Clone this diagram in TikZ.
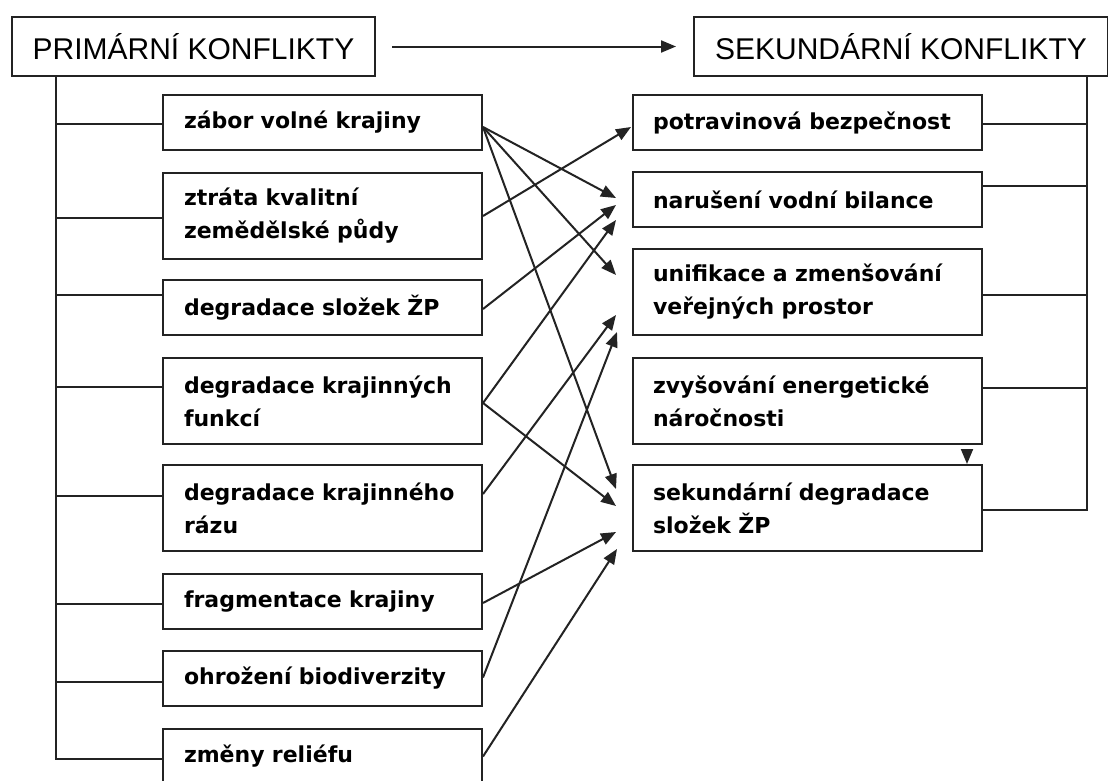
\documentclass[tikz,border=0pt]{standalone}
\usepackage{fontspec}
\setmainfont{DejaVu Sans}
\newfontfamily\titlefont{Liberation Sans}
\usetikzlibrary{arrows.meta,calc}
\definecolor{lc}{RGB}{35,35,35}
\begin{document}
\begin{tikzpicture}[x=1pt,y=1pt,
  ln/.style={line width=2pt, draw=lc},
  arr/.style={ln, -{Triangle[length=15pt,width=12pt]}},
  titlebox/.style={draw=lc, line width=2pt, anchor=north west, inner sep=0pt,
    minimum height=59pt, font=\titlefont\fontsize{30}{36}\selectfont},
  lbox/.style={draw=lc, line width=2pt, anchor=north west, inner xsep=21pt, inner ysep=0pt,
    text width=277pt, align=left, minimum height=55pt,
    font=\fontsize{22}{33}\selectfont\bfseries},
  rbox/.style={lbox, inner xsep=20pt, text width=309pt},
  tall/.style={minimum height=86pt}
]
\useasboundingbox (0,0) rectangle (1108,-780);
\clip (0,0) rectangle (1108,-780);
\fill[white] (0,0) rectangle (1108,-780);

% titles
\node[titlebox, minimum width=363pt] (tl) at (11,-16) {PRIMÁRNÍ KONFLIKTY};
\node[titlebox, minimum width=414pt] (tr) at (693,-16) {SEKUNDÁRNÍ KONFLIKTY};
\draw[arr] ([xshift=16pt]tl.east) -- ([xshift=-17pt]tr.west);

% left boxes
\node[lbox] (b1) at (162,-94) {zábor volné krajiny};
\node[lbox,tall] (b2) at (162,-172) {ztráta kvalitní\\zemědělské půdy};
\node[lbox] (b3) at (162,-279) {degradace složek ŽP};
\node[lbox,tall] (b4) at (162,-357) {degradace krajinných\\funkcí};
\node[lbox,tall] (b5) at (162,-464) {degradace krajinného\\rázu};
\node[lbox] (b6) at (162,-573) {fragmentace krajiny};
\node[lbox] (b7) at (162,-650) {ohrožení biodiverzity};
\node[lbox] (b8) at (162,-728) {změny reliéfu};

% right boxes
\node[rbox] (r1) at (632,-94) {potravinová bezpečnost};
\node[rbox] (r2) at (632,-171) {narušení vodní bilance};
\node[rbox,tall] (r3) at (632,-248) {unifikace a zmenšování\\veřejných prostor};
\node[rbox,tall] (r4) at (632,-357) {zvyšování energetické\\náročnosti};
\node[rbox,tall] (r5) at (632,-464) {sekundární degradace\\složek ŽP};

% left tree
\coordinate (lvx) at (56,0);
\coordinate (h1) at ([yshift=-1.5pt]b1.west);
\coordinate (h2) at ([yshift=-2pt]b2.west);
\coordinate (h3) at ([yshift=12.5pt]b3.west);
\coordinate (h4) at ([yshift=14pt]b4.west);
\coordinate (h5) at ([yshift=12pt]b5.west);
\coordinate (h6) at ([yshift=-2.5pt]b6.west);
\coordinate (h7) at ([yshift=-3.5pt]b7.west);
\coordinate (h8) at ([yshift=-2.5pt]b8.west);
\draw[ln] (tl.south -| lvx) -- (lvx |- h8) -- (h8);
\foreach \h in {h1,h2,h3,h4,h5,h6,h7} \draw[ln] (lvx |- \h) -- (\h);

% right tree
\coordinate (rvx) at (1087,0);
\coordinate (g1) at ([yshift=-1.5pt]r1.east);
\coordinate (g2) at ([yshift=14pt]r2.east);
\coordinate (g3) at ([yshift=-2.5pt]r3.east);
\coordinate (g4) at ([yshift=13pt]r4.east);
\coordinate (g5) at ([yshift=-2pt]r5.east);
\draw[ln] (tr.south -| rvx) -- (rvx |- g5) -- (g5);
\foreach \g in {g1,g2,g3,g4} \draw[ln] (rvx |- \g) -- (\g);

% arrow tips
\coordinate (t1) at (631,-127);
\coordinate (t2a) at (616,-198);
\coordinate (t2b) at (616,-205);
\coordinate (t2c) at (616,-220);
\coordinate (t3a) at (616,-275);
\coordinate (t3b) at (616,-315);
\coordinate (t3c) at (617,-332);
\coordinate (t5a) at (616,-489);
\coordinate (t5b) at (616,-506);
\coordinate (t5c) at (616,-532);
\coordinate (t5d) at (617,-549);

% arrow starts
\coordinate (s1) at ([yshift=-4.5pt]b1.east);
\coordinate (s2) at (b2.east);
\coordinate (s3) at ([yshift=-1.5pt]b3.east);
\coordinate (s4) at ([yshift=-2pt]b4.east);
\coordinate (s5) at ([yshift=14pt]b5.east);
\coordinate (s6) at ([yshift=-1.5pt]b6.east);
\coordinate (s7) at ([yshift=1pt]b7.east);
\coordinate (s8) at (b8.east);

\draw[arr] (s1) -- (t2a);
\draw[arr] (s1) -- (t3a);
\draw[arr] (s1) -- (t5a);
\draw[arr] (s2) -- (t1);
\draw[arr] (s3) -- (t2b);
\draw[arr] (s4) -- (t2c);
\draw[arr] (s4) -- (t5b);
\draw[arr] (s5) -- (t3b);
\draw[arr] (s6) -- (t5c);
\draw[arr] (s7) -- (t3c);
\draw[arr] (s8) -- (t5d);

% R4 -> R5 (head only, no visible shaft)
\coordinate (ax) at (967,0);
\draw[arr] ([yshift=-5pt]r4.south -| ax) -- (r5.north -| ax);
\end{tikzpicture}
\end{document}
